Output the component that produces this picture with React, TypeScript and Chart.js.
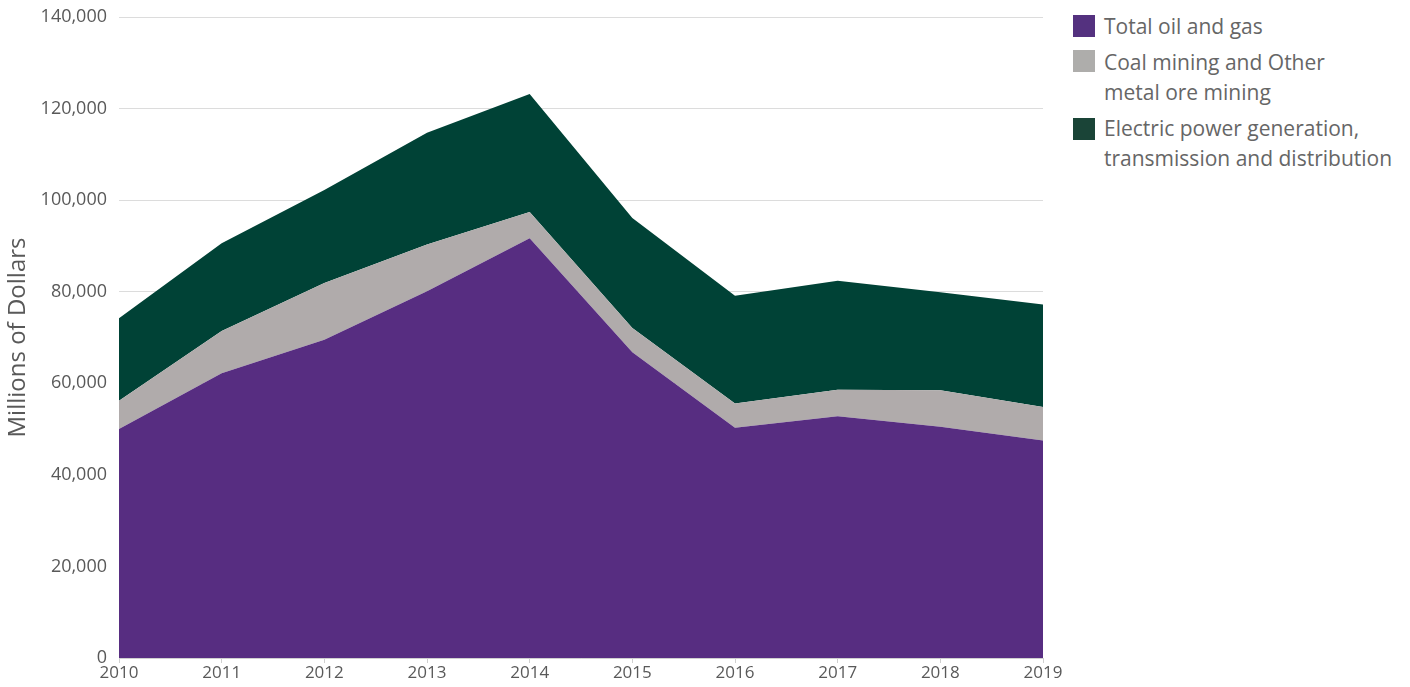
import React, { useEffect, useRef } from "react";
import { Chart, registerables } from "chart.js";

Chart.register(...registerables);

const years = ["2010", "2011", "2012", "2013", "2014", "2015", "2016", "2017", "2018", "2019"];
const oilGas = [50000, 62200, 69500, 80100, 91700, 66800, 50300, 52800, 50500, 47500];
const coalMetal = [6200, 9200, 12400, 10200, 5700, 5300, 5300, 5800, 8000, 7300];
const electric = [18000, 19200, 20300, 24400, 25800, 24000, 23500, 23800, 21400, 22400];

const seriesNames = [
  ["Total oil and gas"],
  ["Coal mining and Other", "metal ore mining"],
  ["Electric power generation,", "transmission and distribution"],
];
const fillColors = ["#572d81", "#b0abab", "#004236"];
const legendColors = ["#54317f", "#aeadab", "#1a4437"];

const FONT = "'Open Sans', 'Noto Sans', sans-serif";

export default function App() {
  const ref = useRef<HTMLCanvasElement | null>(null);
  useEffect(() => {
    document.body.style.margin = "0";
    if (!ref.current) return;
    const data = [oilGas, coalMetal, electric];
    const chart = new Chart(ref.current, {
      type: "line",
      data: {
        labels: years,
        datasets: data.map((d, i) => ({
          label: seriesNames[i].join(" "),
          data: d,
          backgroundColor: fillColors[i],
          borderColor: fillColors[i],
          borderWidth: 0,
          pointRadius: 0,
          tension: 0,
          fill: i === 0 ? "origin" : "-1",
        })),
      },
      options: {
        animation: false,
        responsive: false,
        maintainAspectRatio: false,
        layout: { padding: { top: 17, right: 27, bottom: 0, left: 0 } },
        plugins: { legend: { display: false }, tooltip: { enabled: false } },
        scales: {
          x: {
            offset: false,
            grid: { drawOnChartArea: false, drawTicks: true, tickLength: 5, color: "#d0d0d0" },
            border: { display: true, color: "#d0d0d0" },
            ticks: { color: "#595959", font: { family: FONT, size: 17 }, padding: 0, maxRotation: 0 },
            afterFit: (s: any) => { s.height = 29; s.paddingLeft = 0; s.paddingRight = 0; },
          },
          y: {
            stacked: true,
            min: 0,
            max: 140000,
            ticks: { stepSize: 20000, color: "#595959", font: { family: FONT, size: 18 }, padding: 12 },
            grid: { color: "#dcdcdc", drawTicks: false },
            border: { display: false },
            title: { display: true, text: "Millions of Dollars", color: "#595959", font: { family: FONT, size: 24 }, padding: { top: 4, bottom: 0 } },
            afterFit: (s: any) => { s.width = 119; s.paddingTop = 0; s.paddingBottom = 0; },
          },
        },
      },
    });
    return () => chart.destroy();
  }, []);

  const boxTops = [15, 50, 118];
  const textTops = [11, 47, 113];
  return (
    <div style={{ position: "absolute", left: 0, top: 0, width: 1410, height: 687, background: "#fff", fontFamily: FONT }}>
      <canvas ref={ref} width={1070} height={687} style={{ position: "absolute", left: 0, top: 0, width: 1070, height: 687 }} />
      {seriesNames.map((lines, i) => (
        <React.Fragment key={i}>
          <div style={{ position: "absolute", left: 1073, top: boxTops[i], width: 22, height: 22, background: legendColors[i] }} />
          <div style={{ position: "absolute", left: 1104, top: textTops[i], fontSize: 21, lineHeight: "30px", color: "#666", whiteSpace: "nowrap" }}>
            {lines.map((l, j) => (<div key={j}>{l}</div>))}
          </div>
        </React.Fragment>
      ))}
    </div>
  );
}
